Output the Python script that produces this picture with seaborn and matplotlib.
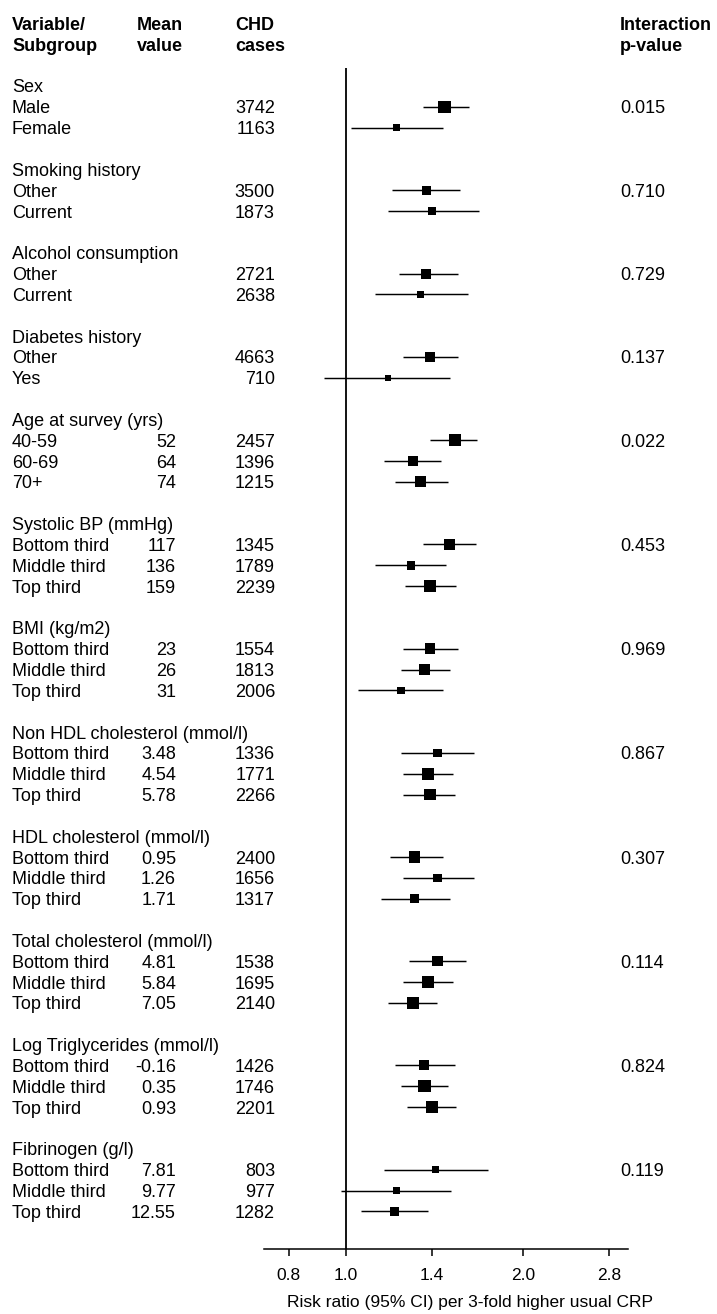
import numpy as np
import pandas as pd
import matplotlib
matplotlib.use("Agg")
import matplotlib.pyplot as plt
import matplotlib.transforms as mtransforms
import seaborn as sns

# ---- data -------------------------------------------------------------
group_names = [
    "Sex", "Smoking history", "Alcohol consumption", "Diabetes history",
    "Age at survey (yrs)", "Systolic BP (mmHg)", "BMI (kg/m2)",
    "Non HDL cholesterol (mmol/l)", "HDL cholesterol (mmol/l)",
    "Total cholesterol (mmol/l)", "Log Triglycerides (mmol/l)",
    "Fibrinogen (g/l)",
]
group_sizes = [2, 2, 2, 2, 3, 3, 3, 3, 3, 3, 3, 3]
p_interaction = ["0.015", "0.710", "0.729", "0.137", "0.022", "0.453",
                 "0.969", "0.867", "0.307", "0.114", "0.824", "0.119"]

thirds = ["Bottom third", "Middle third", "Top third"]
subgroups = (["Male", "Female", "Other", "Current", "Other", "Current",
              "Other", "Yes", "40-59", "60-69", "70+"] + thirds * 7)

mean_values = (["", "", "", "", "", "", "", "",
                "52", "64", "74",
                "117", "136", "159",
                "23", "26", "31",
                "3.48", "4.54", "5.78",
                "0.95", "1.26", "1.71",
                "4.81", "5.84", "7.05",
                "-0.16", "0.35", "0.93",
                "7.81", "9.77", "12.55"])

chd_cases = [3742, 1163, 3500, 1873, 2721, 2638, 4663, 710,
             2457, 1396, 1215, 1345, 1789, 2239, 1554, 1813, 2006,
             1336, 1771, 2266, 2400, 1656, 1317, 1538, 1695, 2140,
             1426, 1746, 2201, 803, 977, 1282]

risk_ratio = [1.47, 1.22, 1.37, 1.40, 1.37, 1.34, 1.39, 1.18,
              1.53, 1.30, 1.34, 1.50, 1.29, 1.39, 1.39, 1.36, 1.24,
              1.43, 1.38, 1.39, 1.31, 1.43, 1.31, 1.43, 1.38, 1.30,
              1.36, 1.36, 1.40, 1.42, 1.22, 1.21]
ci_low = [1.35, 1.02, 1.20, 1.18, 1.23, 1.12, 1.25, 0.92,
          1.39, 1.16, 1.21, 1.35, 1.12, 1.26, 1.25, 1.24, 1.05,
          1.24, 1.25, 1.25, 1.19, 1.25, 1.15, 1.28, 1.25, 1.18,
          1.21, 1.24, 1.27, 1.16, 0.98, 1.06]
ci_high = [1.62, 1.46, 1.56, 1.68, 1.55, 1.61, 1.55, 1.50,
           1.67, 1.45, 1.49, 1.66, 1.48, 1.54, 1.55, 1.50, 1.46,
           1.65, 1.52, 1.53, 1.46, 1.65, 1.50, 1.60, 1.52, 1.43,
           1.53, 1.49, 1.54, 1.74, 1.51, 1.38]

x_ticks = [0.8, 1.0, 1.4, 2.0, 2.8]
x_tick_labels = ["0.8", "1.0", "1.4", "2.0", "2.8"]

# ---- row layout -------------------------------------------------------
header_rows, sub_rows, first_rows = [], [], []
r = 0
for n in group_sizes:
    header_rows.append(r)
    first_rows.append(r + 1)
    sub_rows.extend(range(r + 1, r + 1 + n))
    r += n + 2

df = pd.DataFrame({
    "row": sub_rows, "label": subgroups, "mean": mean_values,
    "cases": chd_cases, "rr": risk_ratio, "lo": ci_low, "hi": ci_high,
})
# box side shrinks with the CI width on the log scale
W, H, DPI = 717, 1314, 100
log_w = np.log(df["hi"]) - np.log(df["lo"])
side_px = 1.9 + 1.9 / log_w
df["s"] = (side_px * 72 / DPI) ** 2

# ---- figure -----------------------------------------------------------
sns.set_theme(style="white")
plt.rcParams["font.family"] = ["Liberation Sans", "DejaVu Sans"]
FS = 13

fig = plt.figure(figsize=(W / DPI, H / DPI), dpi=DPI)
ax_left, ax_right, ax_bottom_px = 264, 628, 1249
ax = fig.add_axes([ax_left / W, (H - ax_bottom_px) / H,
                   (ax_right - ax_left) / W, ax_bottom_px / H])

row0_px, row_step = 86.0, 20.84
y_top = -row0_px / row_step
y_bottom = (ax_bottom_px - row0_px) / row_step

ax.set_xscale("log")
ax.set_xlim(0.727, 3.01)
ax.set_ylim(y_bottom, y_top)

# confidence intervals and point estimates
ax.hlines(df["row"], df["lo"], df["hi"], color="black", lw=1.05, zorder=2)
sns.scatterplot(data=df, x="rr", y="row", marker="s", s=df["s"].values,
                color="black", linewidth=0, legend=False, ax=ax, zorder=3)
ax.vlines(1.0, -0.86, y_bottom, color="black", lw=1.3, zorder=1)

for side in ["top", "right", "left"]:
    ax.spines[side].set_visible(False)
ax.spines["bottom"].set_color("black")
ax.spines["bottom"].set_linewidth(1.1)
ax.set_yticks([])
ax.set_xticks(x_ticks)
ax.set_xticklabels(x_tick_labels)
ax.xaxis.set_minor_locator(matplotlib.ticker.NullLocator())
ax.tick_params(axis="x", which="major", direction="out", length=5,
               width=1.1, color="black", labelsize=12.5, pad=9,
               bottom=True, labelcolor="black")
ax.set_xlabel("")
ax.set_ylabel("")
ax.grid(False)

fig.text(470 / W, 1 - 1302 / H,
         "Risk ratio (95% CI) per 3-fold higher usual CRP",
         ha="center", va="center", fontsize=12.5, color="black")

# ---- text columns -----------------------------------------------------
tr = mtransforms.blended_transform_factory(fig.transFigure, ax.transData)
col_label, col_mean, col_cases, col_p = 12 / W, 176 / W, 275 / W, 620 / W

def put(x, y, s, ha="left", bold=False):
    fig.text(x, y, s, transform=tr, ha=ha, va="center_baseline",
             fontsize=FS, fontweight="bold" if bold else "normal",
             color="black", clip_on=False)

put(col_label, -3, "Variable/", bold=True)
put(col_label, -2, "Subgroup", bold=True)
put(137 / W, -3, "Mean", bold=True)
put(137 / W, -2, "value", bold=True)
put(235 / W, -3, "CHD", bold=True)
put(235 / W, -2, "cases", bold=True)
put(col_p, -3, "Interaction", bold=True)
put(col_p, -2, "p-value", bold=True)

for name, row in zip(group_names, header_rows):
    put(col_label, row, name)
for p, row in zip(p_interaction, first_rows):
    put(col_p, row, p)
for _, rec in df.iterrows():
    put(col_label, rec["row"], rec["label"])
    if rec["mean"]:
        put(col_mean, rec["row"], rec["mean"], ha="right")
    put(col_cases, rec["row"], str(rec["cases"]), ha="right")

fig.savefig("out.png", dpi=DPI, facecolor="white")
